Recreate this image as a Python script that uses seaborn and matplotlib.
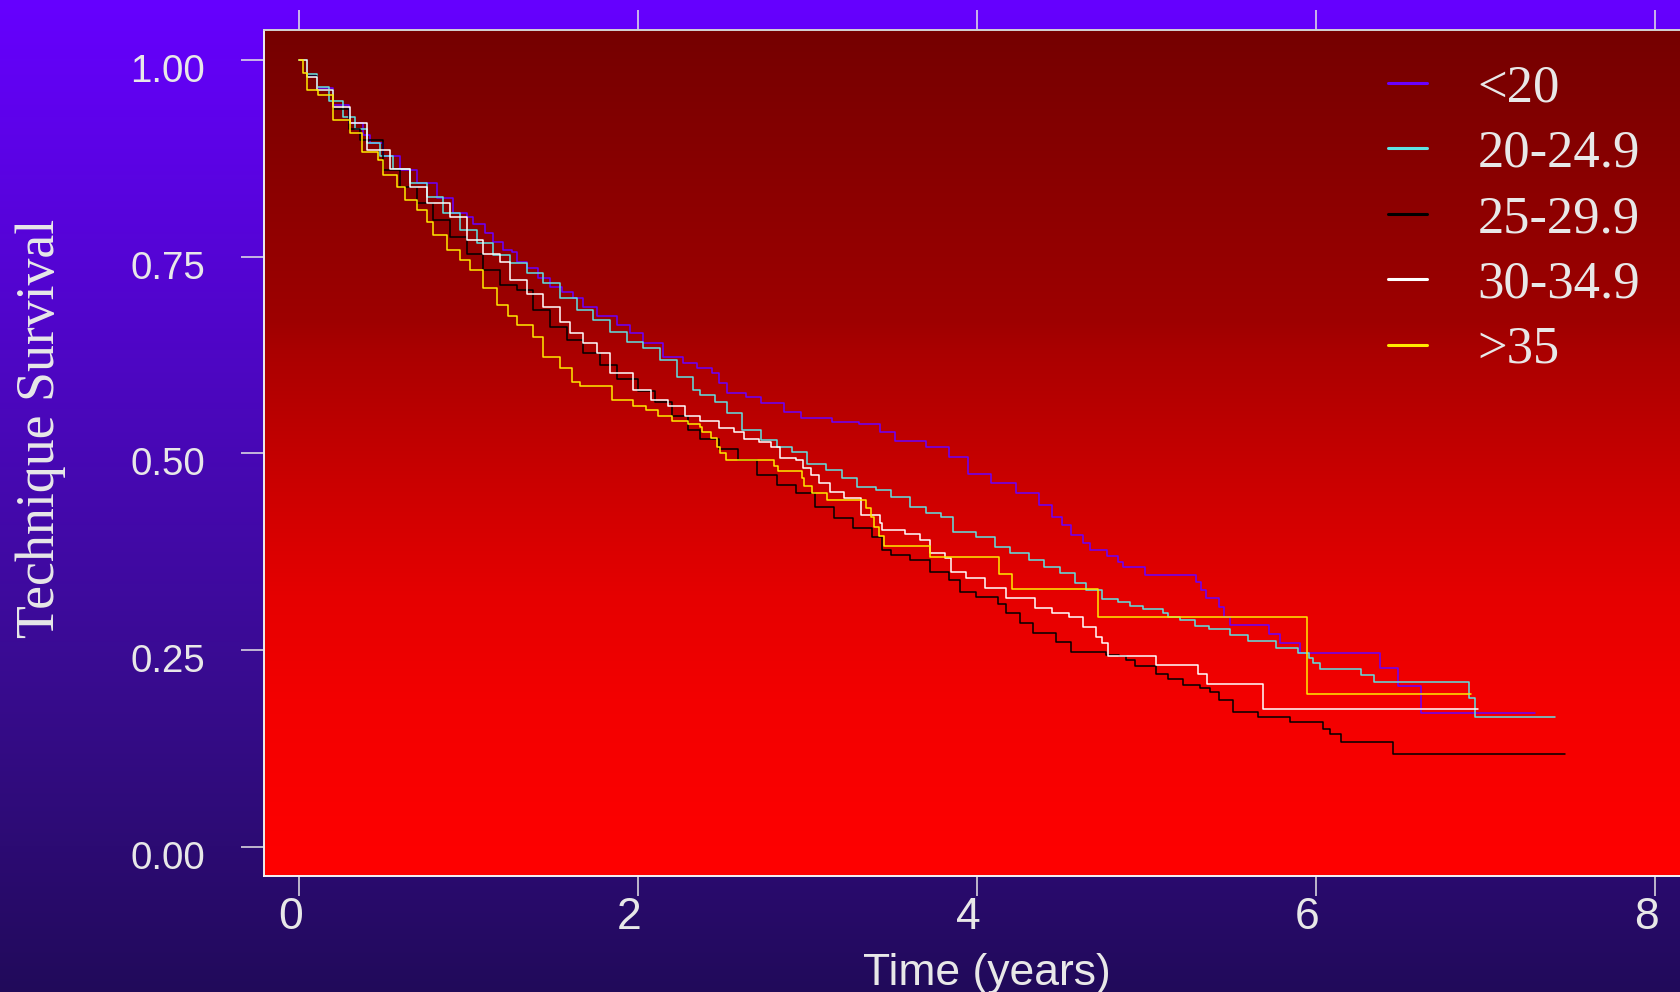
import numpy as np
import pandas as pd
import matplotlib
matplotlib.use("Agg")
import matplotlib.pyplot as plt
import seaborn as sns
from matplotlib.transforms import ScaledTranslation
from matplotlib.lines import Line2D

# ---------------- data ----------------
groups = ["<20", "20-24.9", "25-29.9", "30-34.9", ">35"]

t_lt20 = [0, 0.05, 0.107, 0.2, 0.3, 0.382, 0.421, 0.5, 0.6, 0.7, 0.815, 0.913, 0.992, 1.031, 1.1, 1.149,
          1.208, 1.257, 1.287, 1.346, 1.414, 1.483, 1.552, 1.621, 1.68, 1.759, 1.877, 1.955, 2.034, 2.152,
          2.27, 2.349, 2.436, 2.481, 2.526, 2.639, 2.729, 2.865, 2.966, 3.147, 3.305, 3.429, 3.52, 3.70,
          3.836, 3.949, 4.084, 4.231, 4.367, 4.445, 4.502, 4.558, 4.626, 4.671, 4.772, 4.837, 4.864, 4.991,
          5.292, 5.324, 5.351, 5.428, 5.46, 5.493, 5.723, 5.788, 5.909, 6.378, 6.488, 6.619, 7.296]
s_lt20 = [1.0, 0.98, 0.965, 0.943, 0.92, 0.905, 0.894, 0.878, 0.86, 0.843, 0.824, 0.805, 0.801, 0.792, 0.78,
          0.769, 0.7585, 0.756, 0.7436, 0.735, 0.7225, 0.712, 0.7055, 0.697, 0.686, 0.674, 0.663, 0.6526,
          0.64, 0.623, 0.6145, 0.608, 0.602, 0.589, 0.5764, 0.572, 0.5636, 0.553, 0.5445, 0.54, 0.537,
          0.5275, 0.516, 0.5077, 0.4958, 0.4738, 0.4627, 0.45, 0.4343, 0.4195, 0.409, 0.396, 0.3857, 0.377,
          0.3695, 0.3623, 0.355, 0.3454, 0.3369, 0.3263, 0.3158, 0.3051, 0.2924, 0.2814, 0.27, 0.2585,
          0.2458, 0.2268, 0.2043, 0.1696, 0.1696]

t_20 = [0, 0.05, 0.107, 0.18, 0.264, 0.33, 0.402, 0.48, 0.559, 0.657, 0.756, 0.854, 0.952, 1.051, 1.149,
        1.247, 1.346, 1.444, 1.542, 1.641, 1.739, 1.837, 1.936, 2.034, 2.132, 2.231, 2.329, 2.368, 2.458,
        2.526, 2.617, 2.729, 2.82, 2.91, 3.0, 3.113, 3.203, 3.294, 3.407, 3.497, 3.61, 3.7, 3.79, 3.858,
        3.994, 4.107, 4.197, 4.31, 4.4, 4.49, 4.58, 4.648, 4.739, 4.837, 4.903, 4.979, 5.1, 5.132, 5.198,
        5.286, 5.373, 5.493, 5.602, 5.767, 5.897, 5.963, 5.985, 6.028, 6.269, 6.346, 6.903, 6.942, 7.413]
s_20 = [1.0, 0.982, 0.966, 0.948, 0.928, 0.912, 0.894, 0.878, 0.862, 0.843, 0.826, 0.805, 0.784, 0.767,
        0.752, 0.7416, 0.729, 0.716, 0.697, 0.682, 0.6695, 0.6546, 0.642, 0.6335, 0.6187, 0.5975, 0.5805,
        0.574, 0.5657, 0.551, 0.5297, 0.517, 0.5085, 0.502, 0.487, 0.479, 0.468, 0.457, 0.4534, 0.445,
        0.432, 0.4238, 0.4195, 0.40, 0.394, 0.381, 0.373, 0.3645, 0.356, 0.3475, 0.3348, 0.3263, 0.3145,
        0.3114, 0.306, 0.3017, 0.2967, 0.2916, 0.2882, 0.2806, 0.2771, 0.2687, 0.2619, 0.2526, 0.2458,
        0.2395, 0.2331, 0.2263, 0.2179, 0.2097, 0.1886, 0.1645, 0.1645]

t_25 = [0, 0.05, 0.107, 0.2, 0.3, 0.362, 0.5, 0.598, 0.697, 0.795, 0.893, 0.992, 1.09, 1.188, 1.287, 1.385,
        1.483, 1.582, 1.68, 1.778, 1.877, 2.0, 2.1, 2.2, 2.3, 2.368, 2.481, 2.594, 2.707, 2.82, 2.933, 3.045,
        3.158, 3.271, 3.384, 3.441, 3.497, 3.61, 3.723, 3.836, 3.903, 3.994, 4.129, 4.175, 4.254, 4.333,
        4.468, 4.558, 4.762, 4.842, 4.881, 4.936, 5.056, 5.132, 5.22, 5.318, 5.379, 5.432, 5.51, 5.661,
        5.847, 6.046, 6.083, 6.151, 6.459, 7.471]
s_25 = [1.0, 0.98, 0.962, 0.938, 0.912, 0.898, 0.86, 0.839, 0.818, 0.797, 0.775, 0.754, 0.733, 0.714, 0.708,
        0.682, 0.661, 0.644, 0.627, 0.612, 0.595, 0.579, 0.565, 0.548, 0.53, 0.518, 0.506, 0.4915, 0.4725,
        0.46, 0.449, 0.432, 0.4175, 0.405, 0.394, 0.377, 0.371, 0.3645, 0.3496, 0.339, 0.324, 0.318, 0.309,
        0.2967, 0.284, 0.271, 0.2606, 0.248, 0.2437, 0.2424, 0.2373, 0.2297, 0.2195, 0.2132, 0.2051,
        0.2013, 0.1966, 0.1865, 0.1708, 0.1645, 0.1581, 0.1496, 0.1433, 0.1335, 0.1174, 0.1174]

t_30 = [0, 0.05, 0.107, 0.2, 0.303, 0.402, 0.539, 0.657, 0.756, 0.893, 0.992, 1.09, 1.188, 1.247, 1.346,
        1.444, 1.542, 1.601, 1.68, 1.759, 1.837, 1.975, 2.08, 2.18, 2.28, 2.368, 2.481, 2.571, 2.628, 2.718,
        2.786, 2.842, 2.933, 2.978, 3.023, 3.068, 3.136, 3.215, 3.316, 3.429, 3.441, 3.576, 3.666, 3.723,
        3.813, 3.847, 3.937, 4.05, 4.175, 4.344, 4.445, 4.547, 4.626, 4.705, 4.739, 4.773, 5.056, 5.307,
        5.358, 5.689, 6.958]
s_30 = [1.0, 0.978, 0.962, 0.94, 0.9196, 0.8856, 0.862, 0.839, 0.818, 0.801, 0.771, 0.754, 0.7436, 0.72,
        0.703, 0.686, 0.667, 0.6526, 0.64, 0.627, 0.602, 0.5805, 0.568, 0.56, 0.548, 0.541, 0.532, 0.5275,
        0.518, 0.515, 0.5085, 0.4937, 0.4915, 0.481, 0.4725, 0.462, 0.451, 0.443, 0.4216, 0.411, 0.4026,
        0.3975, 0.39, 0.373, 0.3666, 0.3496, 0.341, 0.3285, 0.3158, 0.303, 0.2967, 0.2924, 0.2797, 0.267,
        0.2585, 0.2424, 0.231, 0.2195, 0.2068, 0.1754, 0.1754]

t_35 = [0, 0.028, 0.05, 0.116, 0.205, 0.303, 0.372, 0.47, 0.5, 0.579, 0.628, 0.697, 0.756, 0.795, 0.874,
        0.952, 1.011, 1.09, 1.169, 1.237, 1.287, 1.385, 1.444, 1.542, 1.611, 1.66, 1.847, 1.97, 2.05, 2.12,
        2.2, 2.3, 2.368, 2.379, 2.431, 2.47, 2.486, 2.522, 2.802, 2.831, 2.971, 2.982, 3.03, 3.12, 3.346,
        3.378, 3.395, 3.425, 3.454, 3.723, 4.132, 4.211, 4.716, 5.952, 6.918]
s_35 = [1.0, 0.983, 0.962, 0.955, 0.924, 0.907, 0.883, 0.873, 0.854, 0.839, 0.822, 0.809, 0.794, 0.778,
        0.758, 0.746, 0.733, 0.71, 0.689, 0.674, 0.663, 0.648, 0.623, 0.608, 0.591, 0.585, 0.568, 0.56,
        0.555, 0.548, 0.541, 0.537, 0.534, 0.5275, 0.52, 0.508, 0.5, 0.4915, 0.484, 0.477, 0.468, 0.4585,
        0.45, 0.4407, 0.43, 0.4195, 0.4068, 0.395, 0.382, 0.368, 0.3466, 0.327, 0.2916, 0.1937, 0.1937]

x_ticks = [0, 2, 4, 6, 8]
y_ticks = [0.0, 0.25, 0.5, 0.75, 1.0]
y_tick_labels = ["0.00", "0.25", "0.50", "0.75", "1.00"]

# ---------------- build frame ----------------
series = {"<20": (t_lt20, s_lt20), "20-24.9": (t_20, s_20), "25-29.9": (t_25, s_25),
          "30-34.9": (t_30, s_30), ">35": (t_35, s_35)}
frames = []
for g in groups:
    t, s = series[g]
    frames.append(pd.DataFrame({"time": t, "surv": s, "group": g}))
df = pd.concat(frames, ignore_index=True)

palette = {"<20": "#6a00ff", "20-24.9": "#5fe3e3", "25-29.9": "#000000",
           "30-34.9": "#ffffff", ">35": "#ffea00"}

# ---------------- styling ----------------
sns.set_theme(style="ticks")
plt.rcParams["font.family"] = ["Liberation Sans", "DejaVu Sans"]

W, H, DPI = 1681, 992, 100
fig = plt.figure(figsize=(W / DPI, H / DPI), dpi=DPI)

# figure background gradient (purple -> dark indigo)
ys = np.arange(H)
r = np.interp(ys, [0, 700, 992], [102, 55, 33])
g_ = np.interp(ys, [0, 700, 992], [0, 12, 10])
b = np.interp(ys, [0, 700, 992], [255, 140, 90])
bg_img = np.stack([r, g_, b], axis=1)[:, None, :] / 255.0
bgax = fig.add_axes([0, 0, 1, 1], zorder=-10)
bgax.imshow(bg_img, aspect="auto", extent=(0, 1, 0, 1), interpolation="bilinear")
bgax.set_axis_off()

# main axes
ax_left, ax_bottom = 264.3 / W, (H - 875.7) / H
x0_px, px_per_year = 298.6, 169.5
xlim = (-0.2024, 8.5)
ax_right_px = x0_px + xlim[1] * px_per_year
ax = fig.add_axes([ax_left, ax_bottom, (ax_right_px - 264.3) / W, (875.7 - 30) / H])

# axes background gradient (dark red -> red)
yy = np.linspace(30, 876, 400)
rr = np.interp(yy, [30, 320, 350, 520, 600, 700, 876], [117, 158, 170, 212, 230, 243, 255])
ax_img = np.stack([rr, np.zeros_like(rr), np.zeros_like(rr)], axis=1)[:, None, :] / 255.0
ax.imshow(ax_img, aspect="auto", extent=(0, 1, 0, 1), transform=ax.transAxes,
          interpolation="bilinear", zorder=0)

sns.lineplot(data=df, x="time", y="surv", hue="group", hue_order=groups, palette=palette,
             estimator=None, sort=False, drawstyle="steps-post", linewidth=1.1, ax=ax,
             legend=False, zorder=3)

ax.set_xlim(*xlim)
ax.set_ylim(-0.0369, 1.0381)
ax.set_xticks(x_ticks)
ax.set_xticklabels([str(v) for v in x_ticks])
ax.set_yticks(y_ticks)
ax.set_yticklabels(y_tick_labels)
ax.set_xlabel("")
ax.set_ylabel("")

txtc = "#e8e8e8"
for side in ["left", "bottom", "top"]:
    ax.spines[side].set_visible(True)
    ax.spines[side].set_linewidth(1.4)
ax.spines["left"].set_color("#eeeeee")
ax.spines["bottom"].set_color("#f4f4f4")
ax.spines["top"].set_color("#d4d4d4")
ax.spines["right"].set_visible(False)

ax.tick_params(axis="x", direction="out", length=14.4, width=1.1, color="#e6e6e6",
               labelsize=32, labelcolor=txtc, pad=1, top=True, labeltop=False)
ax.tick_params(axis="y", direction="out", length=16.5, width=1.1, color="#e6e6e6",
               labelsize=27.7, labelcolor=txtc, pad=26, right=False)

for tk in ax.xaxis.get_major_ticks():
    tk.label1.set_transform(tk.label1.get_transform() +
                            ScaledTranslation(-8 / DPI, 0, fig.dpi_scale_trans))
for tk in ax.yaxis.get_major_ticks():
    tk.label1.set_transform(tk.label1.get_transform() +
                            ScaledTranslation(0, -8 / DPI, fig.dpi_scale_trans))

# axis titles
fig.text(41 / W, 1 - 428.5 / H, "Technique Survival", rotation=90, ha="center", va="center",
         fontsize=38.7, family=["Liberation Serif", "DejaVu Serif"], color=txtc)
fig.text(987 / W, 1 - 985 / H, "Time (years)", ha="center", va="baseline",
         fontsize=32, color=txtc)

# legend
handles = [Line2D([0], [0], color=palette[g], lw=2.2) for g in groups]
leg = ax.legend(handles, groups, loc="upper left", bbox_to_anchor=(1388 / W, 1 - 64.5 / H),
                bbox_transform=fig.transFigure, frameon=False, borderpad=0, borderaxespad=0,
                handlelength=0.75, handletextpad=0.95, labelspacing=0.33,
                prop={"family": ["Liberation Serif", "DejaVu Serif"], "size": 37.9})
for t in leg.get_texts():
    t.set_color(txtc)

fig.savefig("out.png", dpi=DPI)
